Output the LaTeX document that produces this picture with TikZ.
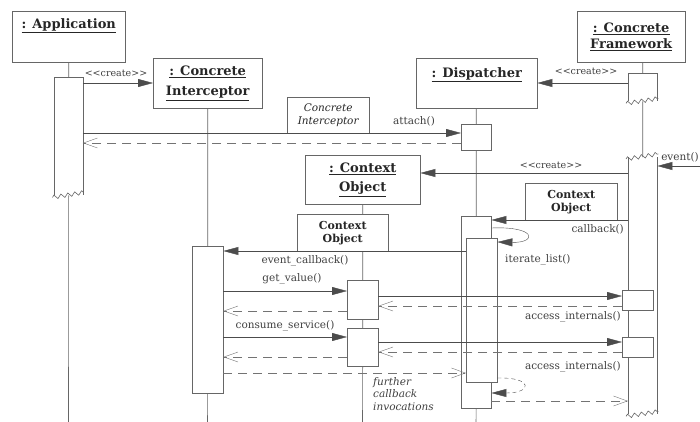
\documentclass[tikz,border=0pt]{standalone}
\usepackage{fontspec}
\setmainfont{DejaVu Serif}
\usetikzlibrary{arrows.meta, decorations.pathmorphing}

\begin{document}
\begin{tikzpicture}[
		x=1pt, y=-1pt,
		obj/.style	={ draw=black!60, fill=white, anchor=north west,
			align=center, inner sep=0pt, text=black!85,
			font=\fontsize{13}{15}\selectfont\bfseries,
		},
		note/.style	={ draw=black!60, fill=white, anchor=north west,
			align=center, inner sep=0pt, text=black!85,
		},
		act/.style		={ draw=black!60, fill=white, anchor=north west, inner sep=0pt },
		actbroken/.style	={ act, draw=none },
		life/.style		={ draw=black!60, line width=0.6pt },
		brk/.style		={ life, decorate,
			decoration={zigzag, segment length=7pt, amplitude=2pt},
		},
		call/.style		={ draw=black!70, -{Triangle[length=15pt, width=8pt]} },
		reply/.style		={ draw=black!55, dash pattern=on 9pt off 6pt,
			-{Straight Barb[length=14pt, width=10pt]},
		},
		msg/.style		={ inner sep=0pt, text=black!75, font=\fontsize{10.5}{12}\selectfont },
		stereo/.style	={ msg, font=\fontsize{9.5}{11}\selectfont },
	]
	\useasboundingbox (0,0) rectangle (700,422);
	\def\create{<\kern0pt<create>\kern0pt>}

	% draw objects
	\node [obj, text height=17pt, text depth=34pt, minimum width=113pt] (app) at (12,11) {\underline{: Application}};
	\node [obj, minimum width=109pt, minimum height=50pt] (ci) at (153,58) {\underline{: Concrete}\\[5pt]\underline{Interceptor}};
	\node [obj, text height=19pt, text depth=31pt, minimum width=121pt] (disp) at (416,58) {\underline{: Dispatcher}};
	\node [obj, minimum width=108pt, minimum height=51pt] (cf) at (577,11) {\underline{: Concrete}\\[1pt]\underline{Framework}};
	\node [obj, minimum width=115pt, minimum height=49pt] (co) at (305,155) {\underline{: Context}\\[4pt]\underline{Object}};

	% draw broken activations
	\def\brklist{ app_act/54.5/77/28/118, cf_act1/628/73/29/28, cf_act2/628/157/29/257 }
	\foreach \n/\x/\y/\w/\h in \brklist
		\node [actbroken, minimum width=\w pt, minimum height=\h pt] (\n) at (\x,\y) {};
	\draw [life] (app_act.south west) -- (app_act.north west) -- (app_act.north east) -- (app_act.south east)
			(cf_act1.south west) -- (cf_act1.north west) -- (cf_act1.north east) -- (cf_act1.south east)
			(cf_act2.north west) -- (cf_act2.south west)
			(cf_act2.north east) -- (cf_act2.south east);
	\foreach \n in {app_act, cf_act1, cf_act2}
		\draw [brk] ([shift={(-2,2)}]\n.south west) -- ([shift={(1,-3)}]\n.south east);
	\draw [brk] ([shift={(-2,2)}]cf_act2.north west) -- ([shift={(1,-3)}]cf_act2.north east);

	% draw activations
	\def\actlist{ ci_act/192/246/31/147, disp_act1/461/124/30/26, disp_act2/461/216/30/192,
		disp_act3/466/238/31/144, co_act1/347/280/31/39, co_act2/347/328/31/38,
		cf_sub1/622/290/31/20, cf_sub2/622/337/31/20 }
	\foreach \n/\x/\y/\w/\h in \actlist
		\node [act, minimum width=\w pt, minimum height=\h pt] (\n) at (\x,\y) {};

	% draw lifelines
	\coordinate (app_end) at (68.5,422);
	\coordinate (ci_end) at (207.5,422);
	\coordinate (disp_end) at (476,422);
	\coordinate (co_end) at (362.5,422);
	\coordinate (event_src) at (705,166);
	\draw [life]
			(app_act.north |- app.south) -- (app_act.north)
			(app_act.south) -- (app_end)
			(ci_act.north |- ci.south) -- (ci_act.north)
			(ci_act.south) -- (ci_end)
			(disp_act1.north |- disp.south) -- (disp_act1.north)
			(disp_act1.south) -- (disp_act2.north)
			(disp_act2.south) -- (disp_end)
			(cf_act1.north |- cf.south) -- (cf_act1.north)
			(cf_act1.south) -- (cf_act2.north)
			(co_act1.north |- co.south) -- (co_act1.north)
			(co_act1.south) -- (co_act2.north)
			(co_act2.south) -- (co_end);

	% draw notes
	\node [note, font=\fontsize{10.5}{13}\selectfont\itshape, minimum width=82pt, minimum height=36pt] (ci_note) at (287,97) {Concrete\\Interceptor};
	\node [note, font=\fontsize{11}{13}\selectfont\bfseries, minimum width=92pt, minimum height=37pt] (co_note1) at (525,183) {Context\\Object};
	\node [note, font=\fontsize{11}{13}\selectfont\bfseries, minimum width=91pt, minimum height=37pt] (co_note2) at (297,214) {Context\\Object};

	% draw calls
	\foreach \a/\b/\y in { app_act.east/ci.west/83, cf_act1.west/disp.east/83,
		app_act.east/disp_act1.west/133, event_src/cf_act2.east/166,
		cf_act2.west/co.east/173, cf_act2.west/disp_act2.east/220,
		disp_act3.west/ci_act.east/251, ci_act.east/co_act1.west/291,
		co_act1.east/cf_sub1.west/296, ci_act.east/co_act2.west/337,
		co_act2.east/cf_sub2.west/342 }
		\draw [call] (\a |- 0,\y) -- (\b |- 0,\y);

	% draw replies
	\foreach \a/\b/\y in { disp_act1.west/app_act.east/143, cf_sub1.west/co_act1.east/306,
		co_act1.west/ci_act.east/311, cf_sub2.west/co_act2.east/352,
		co_act2.west/ci_act.east/357, ci_act.east/disp_act3.west/373,
		disp_act2.east/cf_act2.west/401 }
		\draw [reply] (\a |- 0,\y) -- (\b |- 0,\y);

	% self calls
	\draw [call] (disp_act2.east |- 0,228) .. controls (537,226) and (537,243) .. (disp_act3.east |- 0,242);
	\draw [call, dash pattern=on 4pt off 3pt] (disp_act3.east |- 0,378) .. controls (533,377) and (533,393) .. (disp_act2.east |- 0,393);

	% message labels
	\node [stereo] (l_create1) at (116,73) {\create};
	\node [stereo] (l_create2) at (586,71) {\create};
	\node [stereo] (l_create3) at (551,165) {\create};
	\node [msg] (l_attach) at (414,121) {attach()};
	\node [msg, anchor=east] (l_event) at (699,157) {event()};
	\node [msg, anchor=east] (l_callback) at (624,229) {callback()};
	\node [msg, anchor=west] (l_iterate) at (505,260) {iterate\_list()};
	\node [msg] (l_evcb) at (305,261) {event\_callback()};
	\node [msg] (l_get) at (292,279) {get\_value()};
	\node [msg, anchor=east] (l_access1) at (621,317) {access\_internals()};
	\node [msg] (l_consume) at (285,326) {consume\_service()};
	\node [msg, anchor=east] (l_access2) at (621,367) {access\_internals()};
	\node [msg, anchor=north west, align=left, font=\fontsize{10.5}{12.5}\selectfont\itshape] (l_further) at (373,377) {further\\callback\\invocations};

\end{tikzpicture}
\end{document}
